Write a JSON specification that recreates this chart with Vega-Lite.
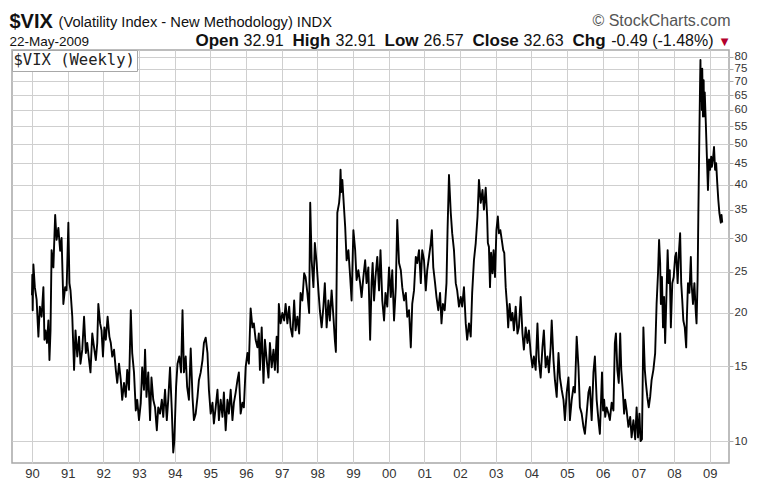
{
  "$schema": "https://vega.github.io/schema/vega-lite/v6.json",
  "width": 717,
  "height": 413,
  "autosize": {"type": "none"},
  "padding": {"left": 12, "top": 50, "right": 37, "bottom": 31},
  "background": "#ffffff",
  "config": {
    "view": {"stroke": "#a8a8a8", "strokeWidth": 1.5},
    "axis": {"labelFont": "Liberation Sans", "titleFont": "Liberation Sans", "titleFontWeight": "normal", "titleColor": "#111111", "titleBaseline": "alphabetic", "titleAngle": 0, "titleAlign": "left", "titleFontSize": 16}
  },
  "data": {"values": [
    {"t":1990.00,"v":22.0},{"t":1990.01,"v":24.6},{"t":1990.02,"v":20.3},{"t":1990.04,"v":26.0},{"t":1990.08,"v":23.0},{"t":1990.13,"v":21.5},{"t":1990.18,"v":17.6},{"t":1990.22,"v":20.7},{"t":1990.27,"v":19.6},{"t":1990.32,"v":23.0},{"t":1990.35,"v":17.3},{"t":1990.38,"v":18.2},{"t":1990.42,"v":17.0},{"t":1990.46,"v":19.2},{"t":1990.49,"v":15.5},{"t":1990.52,"v":18.2},{"t":1990.55,"v":28.1},{"t":1990.60,"v":25.6},{"t":1990.65,"v":34.0},{"t":1990.69,"v":29.7},{"t":1990.74,"v":31.7},{"t":1990.79,"v":28.0},{"t":1990.83,"v":30.0},{"t":1990.88,"v":21.0},{"t":1990.93,"v":23.0},{"t":1990.97,"v":22.6},
    {"t":1991.02,"v":32.6},{"t":1991.05,"v":23.5},{"t":1991.08,"v":22.6},{"t":1991.13,"v":19.6},{"t":1991.18,"v":14.7},{"t":1991.22,"v":18.2},{"t":1991.27,"v":15.8},{"t":1991.32,"v":17.6},{"t":1991.36,"v":15.2},{"t":1991.41,"v":16.4},{"t":1991.46,"v":19.6},{"t":1991.51,"v":16.1},{"t":1991.55,"v":17.0},{"t":1991.60,"v":15.5},{"t":1991.64,"v":14.5},{"t":1991.69,"v":17.9},{"t":1991.74,"v":16.6},{"t":1991.79,"v":15.5},{"t":1991.83,"v":17.0},{"t":1991.86,"v":21.0},{"t":1991.91,"v":18.9},{"t":1991.95,"v":18.2},{"t":1991.99,"v":15.8},
    {"t":1992.03,"v":18.5},{"t":1992.07,"v":17.3},{"t":1992.12,"v":19.6},{"t":1992.17,"v":17.6},{"t":1992.21,"v":17.0},{"t":1992.25,"v":15.8},{"t":1992.30,"v":16.4},{"t":1992.35,"v":14.7},{"t":1992.39,"v":13.7},{"t":1992.44,"v":15.2},{"t":1992.49,"v":13.9},{"t":1992.53,"v":12.5},{"t":1992.58,"v":13.7},{"t":1992.63,"v":12.7},{"t":1992.67,"v":14.7},{"t":1992.72,"v":13.2},{"t":1992.77,"v":20.3},{"t":1992.81,"v":16.1},{"t":1992.86,"v":14.5},{"t":1992.91,"v":11.8},{"t":1992.95,"v":12.5},
    {"t":1993.00,"v":11.2},{"t":1993.05,"v":12.3},{"t":1993.09,"v":14.9},{"t":1993.14,"v":13.2},{"t":1993.17,"v":16.4},{"t":1993.21,"v":12.7},{"t":1993.26,"v":14.5},{"t":1993.31,"v":11.2},{"t":1993.35,"v":14.1},{"t":1993.40,"v":12.5},{"t":1993.45,"v":12.0},{"t":1993.50,"v":10.6},{"t":1993.54,"v":12.0},{"t":1993.59,"v":11.6},{"t":1993.64,"v":12.5},{"t":1993.68,"v":11.4},{"t":1993.73,"v":13.2},{"t":1993.78,"v":11.2},{"t":1993.82,"v":12.5},{"t":1993.87,"v":14.9},{"t":1993.92,"v":11.8},{"t":1993.96,"v":9.4},{"t":1993.99,"v":10.0},
    {"t":1994.04,"v":13.4},{"t":1994.08,"v":15.2},{"t":1994.13,"v":15.8},{"t":1994.18,"v":14.5},{"t":1994.22,"v":20.3},{"t":1994.26,"v":14.5},{"t":1994.31,"v":15.8},{"t":1994.35,"v":13.4},{"t":1994.40,"v":12.5},{"t":1994.45,"v":16.5},{"t":1994.50,"v":12.7},{"t":1994.54,"v":11.2},{"t":1994.59,"v":11.6},{"t":1994.64,"v":12.7},{"t":1994.68,"v":13.9},{"t":1994.73,"v":14.5},{"t":1994.78,"v":15.5},{"t":1994.82,"v":17.0},{"t":1994.87,"v":17.5},{"t":1994.92,"v":16.1},{"t":1994.96,"v":13.2},
    {"t":1995.01,"v":11.6},{"t":1995.06,"v":12.3},{"t":1995.10,"v":11.0},{"t":1995.15,"v":12.0},{"t":1995.20,"v":13.2},{"t":1995.24,"v":11.2},{"t":1995.29,"v":12.5},{"t":1995.34,"v":11.4},{"t":1995.38,"v":13.0},{"t":1995.43,"v":10.6},{"t":1995.48,"v":12.5},{"t":1995.52,"v":11.6},{"t":1995.57,"v":13.2},{"t":1995.62,"v":11.2},{"t":1995.66,"v":12.3},{"t":1995.71,"v":13.0},{"t":1995.76,"v":13.9},{"t":1995.80,"v":14.5},{"t":1995.85,"v":11.6},{"t":1995.90,"v":12.3},{"t":1995.94,"v":12.0},{"t":1995.99,"v":14.9},
    {"t":1996.04,"v":16.1},{"t":1996.08,"v":15.2},{"t":1996.13,"v":20.5},{"t":1996.18,"v":18.5},{"t":1996.22,"v":18.9},{"t":1996.27,"v":17.3},{"t":1996.32,"v":16.6},{"t":1996.36,"v":17.9},{"t":1996.39,"v":14.7},{"t":1996.44,"v":18.5},{"t":1996.49,"v":13.7},{"t":1996.53,"v":17.3},{"t":1996.58,"v":15.5},{"t":1996.63,"v":14.1},{"t":1996.67,"v":17.0},{"t":1996.72,"v":14.9},{"t":1996.77,"v":16.4},{"t":1996.81,"v":14.7},{"t":1996.86,"v":17.6},{"t":1996.89,"v":14.5},{"t":1996.92,"v":21.0},{"t":1996.97,"v":18.9},
    {"t":1997.02,"v":20.0},{"t":1997.07,"v":19.2},{"t":1997.11,"v":21.0},{"t":1997.16,"v":18.9},{"t":1997.21,"v":20.7},{"t":1997.25,"v":18.5},{"t":1997.30,"v":17.6},{"t":1997.35,"v":21.4},{"t":1997.39,"v":18.2},{"t":1997.44,"v":19.6},{"t":1997.49,"v":17.9},{"t":1997.53,"v":22.3},{"t":1997.58,"v":21.4},{"t":1997.63,"v":24.8},{"t":1997.67,"v":24.3},{"t":1997.72,"v":22.3},{"t":1997.77,"v":20.0},{"t":1997.80,"v":36.3},{"t":1997.84,"v":26.6},{"t":1997.89,"v":23.0},{"t":1997.93,"v":29.2},{"t":1997.98,"v":26.2},
    {"t":1998.03,"v":22.6},{"t":1998.07,"v":20.3},{"t":1998.12,"v":18.5},{"t":1998.17,"v":20.7},{"t":1998.21,"v":23.5},{"t":1998.26,"v":18.5},{"t":1998.31,"v":21.4},{"t":1998.35,"v":19.2},{"t":1998.40,"v":22.6},{"t":1998.45,"v":19.6},{"t":1998.49,"v":17.3},{"t":1998.52,"v":16.2},{"t":1998.56,"v":34.4},{"t":1998.61,"v":36.3},{"t":1998.63,"v":38.0},{"t":1998.65,"v":43.4},{"t":1998.67,"v":38.5},{"t":1998.70,"v":41.1},{"t":1998.75,"v":35.0},{"t":1998.78,"v":31.9},{"t":1998.82,"v":26.6},{"t":1998.87,"v":28.1},{"t":1998.92,"v":24.3},{"t":1998.96,"v":21.4},
    {"t":1999.01,"v":31.3},{"t":1999.06,"v":28.1},{"t":1999.10,"v":23.9},{"t":1999.15,"v":25.2},{"t":1999.20,"v":23.5},{"t":1999.24,"v":21.8},{"t":1999.29,"v":24.3},{"t":1999.34,"v":26.6},{"t":1999.38,"v":23.5},{"t":1999.43,"v":25.6},{"t":1999.48,"v":17.3},{"t":1999.52,"v":23.5},{"t":1999.55,"v":26.2},{"t":1999.59,"v":21.4},{"t":1999.63,"v":24.3},{"t":1999.68,"v":27.1},{"t":1999.73,"v":22.6},{"t":1999.77,"v":28.1},{"t":1999.82,"v":21.4},{"t":1999.87,"v":19.2},{"t":1999.91,"v":22.3},{"t":1999.96,"v":20.7},
    {"t":2000.01,"v":25.6},{"t":2000.06,"v":21.8},{"t":2000.10,"v":25.2},{"t":2000.15,"v":19.2},{"t":2000.20,"v":23.0},{"t":2000.24,"v":33.1},{"t":2000.29,"v":26.2},{"t":2000.34,"v":25.2},{"t":2000.38,"v":23.0},{"t":2000.43,"v":21.4},{"t":2000.48,"v":22.3},{"t":2000.52,"v":19.6},{"t":2000.57,"v":20.3},{"t":2000.62,"v":16.6},{"t":2000.66,"v":21.0},{"t":2000.71,"v":22.6},{"t":2000.76,"v":27.1},{"t":2000.80,"v":26.2},{"t":2000.85,"v":28.1},{"t":2000.90,"v":23.5},{"t":2000.94,"v":28.1},{"t":2000.99,"v":26.6},
    {"t":2001.04,"v":22.6},{"t":2001.08,"v":25.2},{"t":2001.13,"v":27.1},{"t":2001.18,"v":29.2},{"t":2001.21,"v":31.3},{"t":2001.25,"v":25.6},{"t":2001.30,"v":23.5},{"t":2001.34,"v":21.8},{"t":2001.39,"v":20.3},{"t":2001.44,"v":22.3},{"t":2001.48,"v":18.9},{"t":2001.52,"v":21.0},{"t":2001.57,"v":20.3},{"t":2001.62,"v":23.5},{"t":2001.65,"v":31.3},{"t":2001.69,"v":42.2},{"t":2001.74,"v":34.4},{"t":2001.78,"v":30.8},{"t":2001.83,"v":28.1},{"t":2001.88,"v":23.5},{"t":2001.92,"v":22.6},{"t":2001.97,"v":20.7},
    {"t":2002.02,"v":21.8},{"t":2002.06,"v":20.7},{"t":2002.11,"v":23.0},{"t":2002.16,"v":18.9},{"t":2002.20,"v":17.3},{"t":2002.25,"v":18.9},{"t":2002.30,"v":17.6},{"t":2002.34,"v":22.3},{"t":2002.39,"v":26.6},{"t":2002.44,"v":29.2},{"t":2002.49,"v":33.7},{"t":2002.53,"v":41.1},{"t":2002.58,"v":36.3},{"t":2002.63,"v":38.9},{"t":2002.67,"v":35.0},{"t":2002.72,"v":39.4},{"t":2002.76,"v":33.7},{"t":2002.78,"v":29.2},{"t":2002.81,"v":28.6},{"t":2002.84,"v":23.0},{"t":2002.87,"v":27.7},{"t":2002.91,"v":24.8},{"t":2002.94,"v":28.1},{"t":2002.98,"v":24.3},
    {"t":2003.02,"v":31.3},{"t":2003.06,"v":33.7},{"t":2003.09,"v":30.8},{"t":2003.13,"v":31.3},{"t":2003.17,"v":29.7},{"t":2003.21,"v":28.1},{"t":2003.24,"v":27.7},{"t":2003.28,"v":23.0},{"t":2003.32,"v":20.7},{"t":2003.35,"v":18.5},{"t":2003.39,"v":21.0},{"t":2003.43,"v":19.2},{"t":2003.47,"v":20.0},{"t":2003.51,"v":18.2},{"t":2003.56,"v":20.7},{"t":2003.61,"v":17.9},{"t":2003.65,"v":18.5},{"t":2003.70,"v":21.8},{"t":2003.75,"v":17.9},{"t":2003.79,"v":16.4},{"t":2003.84,"v":18.5},{"t":2003.89,"v":17.0},{"t":2003.93,"v":18.2},{"t":2003.98,"v":16.1},
    {"t":2004.03,"v":14.9},{"t":2004.07,"v":15.8},{"t":2004.12,"v":14.7},{"t":2004.17,"v":18.9},{"t":2004.21,"v":15.5},{"t":2004.26,"v":14.1},{"t":2004.31,"v":16.6},{"t":2004.35,"v":18.2},{"t":2004.40,"v":14.9},{"t":2004.45,"v":15.8},{"t":2004.49,"v":14.5},{"t":2004.54,"v":16.6},{"t":2004.57,"v":19.2},{"t":2004.62,"v":15.5},{"t":2004.66,"v":13.9},{"t":2004.71,"v":12.7},{"t":2004.76,"v":16.1},{"t":2004.80,"v":14.1},{"t":2004.85,"v":13.2},{"t":2004.90,"v":12.5},{"t":2004.94,"v":11.2},{"t":2004.99,"v":13.0},
    {"t":2005.04,"v":14.1},{"t":2005.08,"v":11.2},{"t":2005.13,"v":12.5},{"t":2005.18,"v":13.4},{"t":2005.22,"v":13.0},{"t":2005.27,"v":17.6},{"t":2005.32,"v":14.9},{"t":2005.36,"v":12.0},{"t":2005.41,"v":11.6},{"t":2005.46,"v":10.8},{"t":2005.50,"v":10.4},{"t":2005.55,"v":11.6},{"t":2005.60,"v":13.0},{"t":2005.64,"v":13.4},{"t":2005.69,"v":11.2},{"t":2005.74,"v":14.5},{"t":2005.78,"v":15.8},{"t":2005.83,"v":12.5},{"t":2005.88,"v":11.2},{"t":2005.92,"v":10.4},{"t":2005.98,"v":14.5},
    {"t":2006.01,"v":11.8},{"t":2006.04,"v":12.5},{"t":2006.07,"v":11.4},{"t":2006.11,"v":12.0},{"t":2006.16,"v":11.6},{"t":2006.20,"v":11.2},{"t":2006.25,"v":12.3},{"t":2006.30,"v":11.8},{"t":2006.34,"v":17.0},{"t":2006.37,"v":17.9},{"t":2006.41,"v":14.7},{"t":2006.45,"v":13.7},{"t":2006.49,"v":17.9},{"t":2006.52,"v":14.7},{"t":2006.56,"v":13.2},{"t":2006.60,"v":11.6},{"t":2006.63,"v":12.5},{"t":2006.67,"v":11.8},{"t":2006.72,"v":10.8},{"t":2006.77,"v":11.4},{"t":2006.81,"v":10.2},{"t":2006.86,"v":11.2},{"t":2006.91,"v":10.1},{"t":2006.95,"v":12.0},{"t":2006.99,"v":10.2},
    {"t":2007.03,"v":11.6},{"t":2007.06,"v":10.0},{"t":2007.10,"v":10.1},{"t":2007.14,"v":18.5},{"t":2007.18,"v":14.7},{"t":2007.21,"v":13.7},{"t":2007.25,"v":12.7},{"t":2007.29,"v":12.0},{"t":2007.33,"v":12.7},{"t":2007.37,"v":13.9},{"t":2007.42,"v":14.7},{"t":2007.47,"v":16.1},{"t":2007.51,"v":21.0},{"t":2007.55,"v":24.8},{"t":2007.58,"v":29.7},{"t":2007.61,"v":26.2},{"t":2007.63,"v":21.0},{"t":2007.66,"v":24.3},{"t":2007.69,"v":18.5},{"t":2007.72,"v":21.8},{"t":2007.75,"v":17.0},{"t":2007.78,"v":21.0},{"t":2007.82,"v":28.1},{"t":2007.85,"v":23.5},{"t":2007.88,"v":25.2},{"t":2007.91,"v":18.5},{"t":2007.95,"v":23.5},{"t":2007.99,"v":24.3},
    {"t":2008.03,"v":27.1},{"t":2008.06,"v":27.7},{"t":2008.10,"v":23.5},{"t":2008.14,"v":28.1},{"t":2008.17,"v":30.8},{"t":2008.20,"v":23.5},{"t":2008.23,"v":21.4},{"t":2008.26,"v":19.2},{"t":2008.30,"v":18.5},{"t":2008.34,"v":16.6},{"t":2008.36,"v":19.6},{"t":2008.39,"v":23.5},{"t":2008.43,"v":22.3},{"t":2008.47,"v":27.1},{"t":2008.49,"v":23.5},{"t":2008.53,"v":21.0},{"t":2008.57,"v":23.5},{"t":2008.61,"v":20.0},{"t":2008.63,"v":18.9},{"t":2008.66,"v":24.0},{"t":2008.68,"v":33.7},{"t":2008.71,"v":53.0},{"t":2008.73,"v":70.0},{"t":2008.74,"v":78.6},{"t":2008.75,"v":63.0},{"t":2008.77,"v":73.5},{"t":2008.78,"v":60.0},{"t":2008.79,"v":75.0},{"t":2008.81,"v":57.9},{"t":2008.83,"v":70.5},{"t":2008.84,"v":58.0},{"t":2008.86,"v":66.0},{"t":2008.88,"v":59.0},{"t":2008.89,"v":55.9},{"t":2008.92,"v":46.6},{"t":2008.95,"v":38.9},{"t":2008.98,"v":45.9},
    {"t":2009.01,"v":43.4},{"t":2009.04,"v":46.6},{"t":2009.06,"v":44.1},{"t":2009.09,"v":45.9},{"t":2009.12,"v":49.1},{"t":2009.15,"v":43.4},{"t":2009.18,"v":45.0},{"t":2009.21,"v":40.5},{"t":2009.24,"v":36.9},{"t":2009.27,"v":34.4},{"t":2009.31,"v":32.6},{"t":2009.33,"v":34.0},{"t":2009.35,"v":32.6}
  ]},
  "resolve": {"axis": {"x": "independent", "y": "independent"}},
  "layer": [
    {
      "mark": {"type": "line", "color": "#000000", "strokeWidth": 1.9, "strokeJoin": "round"},
      "encoding": {
        "x": {"field": "t", "type": "quantitative",
          "scale": {"domain": [1989.44, 2009.54], "nice": false, "zero": false},
          "axis": {"orient": "bottom", "values": [1990,1991,1992,1993,1994,1995,1996,1997,1998,1999,2000,2001,2002,2003,2004,2005,2006,2007,2008,2009],
            "labelExpr": "substring(toString(datum.value), 2, 4)", "grid": true, "gridColor": "#cfcfcf", "gridWidth": 1,
            "ticks": false, "domain": false, "labelPadding": 4, "labelFontSize": 13, "labelColor": "#333333", "labelFlush": false,
            "title": "Open", "titleX": 183, "titleY": -418, "titleFontSize": 17, "titleFontWeight": "bold"}},
        "y": {"field": "v", "type": "quantitative",
          "scale": {"type": "log", "domain": [8.88, 83], "nice": false, "zero": false},
          "axis": {"orient": "right", "values": [10,15,20,25,30,35,40,45,50,55,60,65,70,75,80], "format": "d",
            "grid": true, "gridColor": "#cfcfcf", "gridWidth": 1, "ticks": true, "tickSize": 4, "tickColor": "#a8a8a8", "domain": false,
            "labelPadding": 1, "labelFontSize": 11.5, "labelColor": "#333333", "labelFlush": false, "labelOverlap": false,
            "title": "▼", "titleX": -5, "titleY": -6, "titleAlign": "center", "titleColor": "#b3002d", "titleFontSize": 10, "titleFont": "DejaVu Sans"}},
        "color": {"datum": "$VIX (Weekly)", "scale": {"range": ["#000000"]},
          "legend": {"orient": "top-left", "offset": 0, "padding": 2, "strokeColor": "#a8a8a8", "fillColor": "#ffffff",
            "symbolType": "circle", "symbolSize": 0, "symbolStrokeWidth": 0, "symbolOpacity": 0, "labelOffset": -16, "title": null,
            "labelFont": "DejaVu Sans Mono", "labelFontSize": 15.5, "labelColor": "#222222"}}
      }
    },
    {
      "mark": {"type": "line", "strokeOpacity": 0},
      "encoding": {
        "x": {"field": "t", "type": "quantitative", "scale": {"domain": [1989.44, 2009.54], "nice": false, "zero": false},
          "axis": {"orient": "top", "labels": false, "ticks": false, "domain": false, "grid": false,
            "title": "(Volatility Index - New Methodology) INDX", "titleX": 46, "titleY": -24, "titleFontSize": 14.7}},
        "y": {"field": "v", "type": "quantitative", "scale": {"type": "log", "domain": [8.88, 83], "nice": false, "zero": false},
          "axis": {"orient": "left", "labels": false, "ticks": false, "domain": false, "grid": false,
            "title": "$VIX", "titleX": -3, "titleY": -23, "titleFontSize": 20, "titleFontWeight": "bold"}}
      }
    },
    {
      "mark": {"type": "line", "strokeOpacity": 0},
      "encoding": {
        "x": {"field": "t", "type": "quantitative", "scale": {"domain": [1989.44, 2009.54], "nice": false, "zero": false},
          "axis": {"orient": "top", "labels": false, "ticks": false, "domain": false, "grid": false,
            "title": "© StockCharts.com", "titleX": 718, "titleY": -25, "titleAlign": "right", "titleFontSize": 16, "titleColor": "#555555"}},
        "y": {"field": "v", "type": "quantitative", "scale": {"type": "log", "domain": [8.88, 83], "nice": false, "zero": false},
          "axis": {"orient": "left", "labels": false, "ticks": false, "domain": false, "grid": false,
            "title": "22-May-2009", "titleX": -3, "titleY": -5, "titleFontSize": 13.5}}
      }
    },
    {
      "mark": {"type": "line", "strokeOpacity": 0},
      "encoding": {
        "x": {"field": "t", "type": "quantitative", "scale": {"domain": [1989.44, 2009.54], "nice": false, "zero": false},
          "axis": {"orient": "top", "labels": false, "ticks": false, "domain": false, "grid": false,
            "title": "32.91", "titleX": 231, "titleY": -5}},
        "y": {"field": "v", "type": "quantitative", "scale": {"type": "log", "domain": [8.88, 83], "nice": false, "zero": false},
          "axis": {"orient": "left", "labels": false, "ticks": false, "domain": false, "grid": false,
            "title": "High", "titleX": 280, "titleY": -5, "titleFontSize": 17, "titleFontWeight": "bold"}}
      }
    },
    {
      "mark": {"type": "line", "strokeOpacity": 0},
      "encoding": {
        "x": {"field": "t", "type": "quantitative", "scale": {"domain": [1989.44, 2009.54], "nice": false, "zero": false},
          "axis": {"orient": "top", "labels": false, "ticks": false, "domain": false, "grid": false,
            "title": "32.91", "titleX": 323, "titleY": -5}},
        "y": {"field": "v", "type": "quantitative", "scale": {"type": "log", "domain": [8.88, 83], "nice": false, "zero": false},
          "axis": {"orient": "left", "labels": false, "ticks": false, "domain": false, "grid": false,
            "title": "Low", "titleX": 372, "titleY": -5, "titleFontSize": 17, "titleFontWeight": "bold"}}
      }
    },
    {
      "mark": {"type": "line", "strokeOpacity": 0},
      "encoding": {
        "x": {"field": "t", "type": "quantitative", "scale": {"domain": [1989.44, 2009.54], "nice": false, "zero": false},
          "axis": {"orient": "top", "labels": false, "ticks": false, "domain": false, "grid": false,
            "title": "26.57", "titleX": 411, "titleY": -5}},
        "y": {"field": "v", "type": "quantitative", "scale": {"type": "log", "domain": [8.88, 83], "nice": false, "zero": false},
          "axis": {"orient": "left", "labels": false, "ticks": false, "domain": false, "grid": false,
            "title": "Close", "titleX": 460, "titleY": -5, "titleFontSize": 17, "titleFontWeight": "bold"}}
      }
    },
    {
      "mark": {"type": "line", "strokeOpacity": 0},
      "encoding": {
        "x": {"field": "t", "type": "quantitative", "scale": {"domain": [1989.44, 2009.54], "nice": false, "zero": false},
          "axis": {"orient": "top", "labels": false, "ticks": false, "domain": false, "grid": false,
            "title": "32.63", "titleX": 511, "titleY": -5}},
        "y": {"field": "v", "type": "quantitative", "scale": {"type": "log", "domain": [8.88, 83], "nice": false, "zero": false},
          "axis": {"orient": "left", "labels": false, "ticks": false, "domain": false, "grid": false,
            "title": "Chg", "titleX": 560, "titleY": -5, "titleFontSize": 17, "titleFontWeight": "bold"}}
      }
    },
    {
      "mark": {"type": "line", "strokeOpacity": 0},
      "encoding": {
        "x": {"field": "t", "type": "quantitative", "scale": {"domain": [1989.44, 2009.54], "nice": false, "zero": false},
          "axis": {"orient": "top", "labels": false, "ticks": false, "domain": false, "grid": false,
            "title": "-0.49 (-1.48%)", "titleX": 701, "titleY": -5, "titleAlign": "right"}},
        "y": {"field": "v", "type": "quantitative", "scale": {"type": "log", "domain": [8.88, 83], "nice": false, "zero": false},
          "axis": null}
      }
    }
  ]
}
